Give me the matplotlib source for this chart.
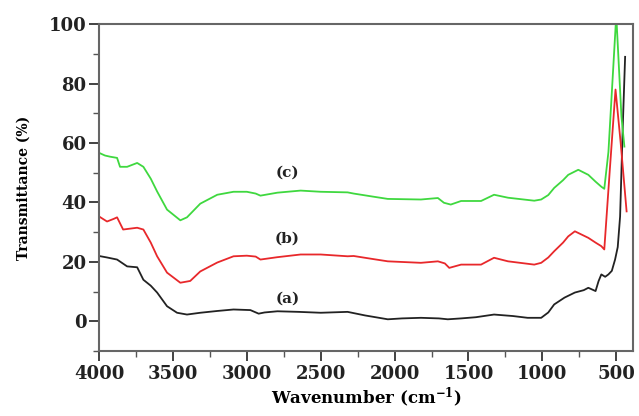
import matplotlib
matplotlib.use("Agg")
import matplotlib.pyplot as plt
import numpy as np

# Curve (a) - black
wn_a = [4000, 3946, 3878, 3810, 3742, 3700, 3650, 3607, 3540, 3472, 3405, 3315, 3200,
        3090, 2976, 2920, 2880, 2793, 2650, 2500, 2318, 2200, 2046, 1950, 1822, 1700, 1640,
        1550, 1450, 1327, 1200, 1100, 1008, 960, 920, 850, 780, 720, 689, 640, 620, 601,
        575, 553, 530, 508, 490, 474, 455, 440]
t_a = [22.0, 21.5, 20.8, 18.5, 18.2, 14.0, 12.0, 9.7, 5.1, 2.9, 2.3, 2.9, 3.5,
       4.0, 3.8, 2.6, 3.0, 3.4, 3.2, 2.9, 3.2, 2.0, 0.7, 1.0, 1.2, 1.0, 0.7,
       1.0, 1.4, 2.3, 1.8, 1.2, 1.2, 3.0, 5.7, 8.0, 9.7, 10.5, 11.3, 10.2, 13.5, 15.8,
       15.0, 15.8, 17.0, 20.8, 25.0, 35.3, 67.0, 89.0]

# Curve (b) - red
wn_b = [4000, 3946, 3900, 3878, 3837, 3790, 3742, 3700, 3650, 3607, 3540, 3450, 3383,
        3315, 3200, 3090, 3000, 2940, 2908, 2793, 2636, 2500, 2318, 2277, 2150, 2046,
        1822, 1707, 1660, 1630, 1550, 1415, 1327, 1232, 1055, 1008, 960, 920, 860, 825,
        780, 689, 640, 601, 581, 545, 505, 470, 430]
t_b = [35.3, 33.6, 34.5, 35.0, 30.9, 31.2, 31.5, 30.9, 26.5, 21.9, 16.4, 13.0, 13.6,
       16.8, 19.8, 21.9, 22.1, 21.8, 20.8, 21.6, 22.5, 22.5, 21.9, 22.0, 21.0, 20.2,
       19.7, 20.2, 19.5, 18.0, 19.1, 19.1, 21.4, 20.2, 19.1, 19.7, 21.5, 23.6, 26.5, 28.6,
       30.3, 28.1, 26.5, 25.3, 24.2, 50.0, 78.0, 60.0, 37.0]

# Curve (c) - green
wn_c = [4000, 3960, 3925, 3878, 3858, 3810, 3742, 3700, 3650, 3607, 3540, 3450, 3405,
        3315, 3200, 3090, 3000, 2940, 2908, 2793, 2636, 2500, 2318, 2277, 2150, 2046,
        1822, 1707, 1666, 1620, 1550, 1415, 1327, 1232, 1055, 1008, 960, 920, 860, 825,
        757, 689, 640, 601, 581, 553, 500, 465, 445]
t_c = [56.7, 55.8, 55.4, 55.0, 52.0, 52.0, 53.3, 52.0, 48.0, 43.7, 37.6, 34.0, 35.0,
       39.6, 42.6, 43.6, 43.6, 43.0, 42.3, 43.3, 44.0, 43.6, 43.4, 43.0, 42.0, 41.2,
       41.0, 41.5, 39.9, 39.3, 40.5, 40.5, 42.6, 41.6, 40.6, 41.0, 42.5, 44.9, 47.5, 49.3,
       51.0, 49.3, 47.0, 45.3, 44.6, 57.0, 103.0, 69.0, 58.8]

labels = ["(a)", "(b)", "(c)"]
label_pos = [(2725, 7.7), (2725, 27.9), (2725, 50.0)]

xticks = [4000, 3500, 3000, 2500, 2000, 1500, 1000, 500]
yticks = [0, 20, 40, 60, 80, 100]

plt.rcParams['font.family'] = ['DejaVu Serif']
plt.rcParams['font.weight'] = 'bold'
plt.rcParams['mathtext.fontset'] = 'dejavuserif'

fig = plt.figure(figsize=(6.39, 4.16), dpi=100)
ax = fig.add_axes([0.155, 0.156, 0.836, 0.786])

ax.plot(wn_a, t_a, color='#222222', lw=1.3)
ax.plot(wn_b, t_b, color='#e8282b', lw=1.3)
ax.plot(wn_c, t_c, color='#3fd83f', lw=1.3)

for lab, (x, y) in zip(labels, label_pos):
    ax.text(x, y, lab, fontsize=11, fontweight='bold', ha='center', va='center',
            color='#222222')

ax.set_xlim(4000, 385)
ax.set_ylim(-10, 100)
ax.set_xticks(xticks)
ax.set_yticks(yticks)
ax.set_xticks([3750, 3250, 2750, 2250, 1750, 1250, 750], minor=True)
ax.set_yticks([-10, 10, 30, 50, 70, 90], minor=True)
ax.tick_params(axis='both', which='major', direction='out', length=7, width=1.2,
               labelsize=13, colors='#222222', top=False, right=False)
ax.tick_params(axis='both', which='minor', direction='out', length=4, width=1.0,
               top=False, right=False, color='#555555')
ax.tick_params(axis='x', which='major', pad=3)
ax.tick_params(axis='y', which='major', pad=2)
for lab in ax.get_xticklabels() + ax.get_yticklabels():
    lab.set_fontweight('bold')

for s in ax.spines.values():
    s.set_color('#666666')
    s.set_linewidth(1.5)

ax.set_xlabel('Wavenumber (cm$^{\\mathbf{-1}}$)', fontsize=12, fontweight='bold', labelpad=2)
ax.set_ylabel('Transmittance (%)', fontsize=10, fontweight='bold', labelpad=13)

fig.savefig('out.png', dpi=100)
